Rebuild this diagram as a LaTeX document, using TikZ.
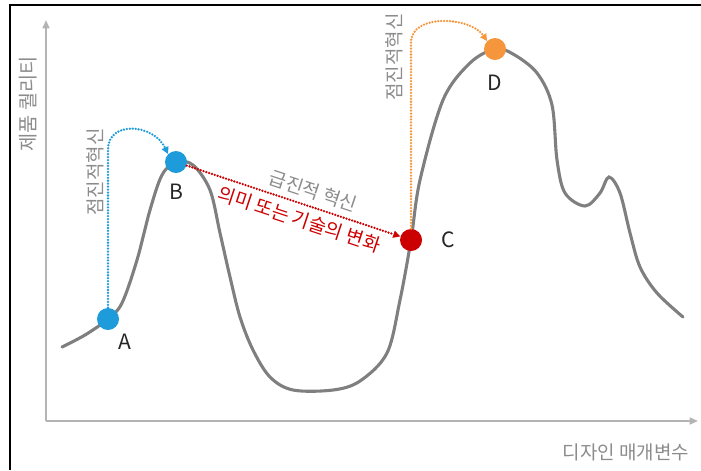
\documentclass[tikz,border=0pt]{standalone}
\usepackage{fontspec}
\setmainfont{Noto Sans CJK KR}
\usepackage{xcolor}
\usepackage{tikz}
\usetikzlibrary{arrows.meta, positioning, calc}

\definecolor{dotblue}{HTML}{1E9BDB}
\definecolor{dotred}{HTML}{CC0000}
\definecolor{dotorange}{HTML}{F5963C}
\definecolor{curvegray}{HTML}{7F7F7F}
\definecolor{axisgray}{HTML}{B4B4B4}
\definecolor{textgray}{HTML}{8C8C8C}

\begin{document}
\begin{tikzpicture}[
    x=0.025cm, y=-0.025cm,
    dot/.style={circle, minimum size=0.55cm, inner sep=0pt},
    letter/.style={font=\fontsize{15}{15}\selectfont, text=black!85},
    note/.style={font=\fontsize{13.5}{13.5}\selectfont, text=textgray, inner sep=1pt},
    axis/.style={draw=axisgray, line width=1.2pt, -{Triangle[length=6pt,width=5pt]}},
    jump/.style={line width=1.8pt, dash pattern=on 0pt off 2.1pt, line cap=round,
      -{Triangle[length=5pt,width=5pt]}}
]
\useasboundingbox (0,0) rectangle (701,470);
% frame
\draw[line width=1.8pt] (10,470) -- (10,5) -- (701,5);

% axes
\coordinate (origin) at (46,421);
\coordinate (ytip) at (46,20);
\coordinate (xtip) at (698,421);
\draw[axis] (origin) -- (ytip);
\draw[axis] (origin) -- (xtip);
\node[note, rotate=90, font=\fontsize{14}{14}\selectfont] (ylabel) at (28,104) {제품 퀄리티};
\node[note] (xlabel) at (626,452) {디자인 매개변수};

% utility curve
\draw[curvegray, line width=2.2pt, line cap=round] plot[smooth, tension=0.55] coordinates {
  (62,347) (85,335) (108,319) (122,303) (137,260) (150,210) (162,175) (176,162)
  (193,165) (210,190) (220,233) (230,277) (240,317) (253,350) (270,377) (293,390)
  (333,390) (360,381) (387,353) (400,300) (411,240) (420,180) (443,100) (470,63)
  (495,49) (513,54) (537,73) (552,105) (557,160) (565,193) (585,206) (600,193)
  (609,177) (620,193) (630,233) (640,267) (657,293) (683,317)};

% points
\node[dot, fill=dotblue] (A) at (108,319) {};
\node[dot, fill=dotblue] (B) at (176,162) {};
\node[dot, fill=dotred] (C) at (411,240) {};
\node[dot, fill=dotorange] (D) at (495,49) {};
\node[letter, below right=0.05cm and -0.05cm of A] (Alab) {A};
\node[letter, below=0.15cm of B] (Blab) {B};
\node[letter, right=0.35cm of C] (Clab) {C};
\node[letter, below=0.25cm of D] (Dlab) {D};

% incremental innovation
\draw[jump, dotblue] (A.north) -- ++(0,-158)
  .. controls ++(0,-30) and ($(B.north west)+(-14,-30)$) .. (B.north west);
\node[note, rotate=90] (incA) at (95,172) {점진적혁신};
\draw[jump, dotorange] (C.north) -- ++(0,-186)
  .. controls ++(0,-30) and ($(D.north west)+(-16,-24)$) .. (D.north west);
\node[note, rotate=90] (incC) at (394,57) {점진적혁신};

% radical innovation
\draw[jump, dotred] (B) -- node[note, sloped, above=3pt, pos=0.57] {급진적 혁신}
  node[note, sloped, below=3pt, pos=0.55, text=dotred] {의미 또는 기술의 변화} (C);
\end{tikzpicture}
\end{document}
